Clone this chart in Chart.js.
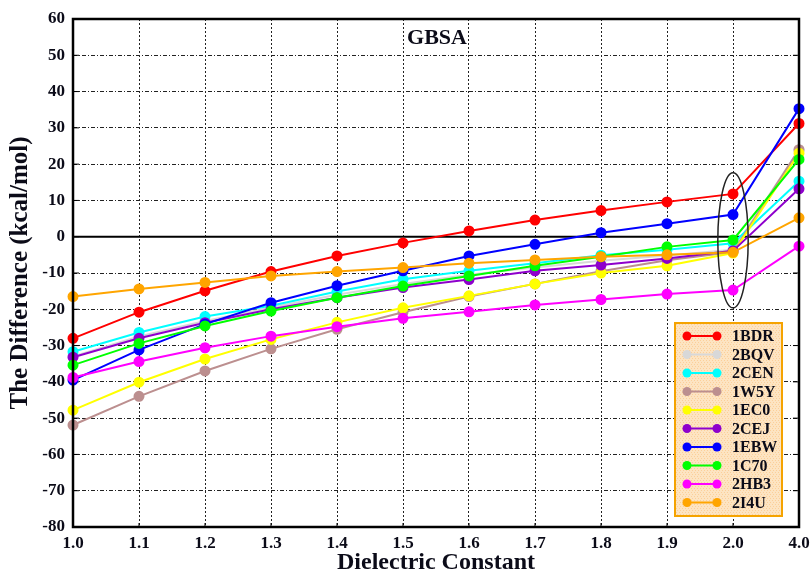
<!DOCTYPE html>
<html>
<head>
<meta charset="utf-8">
<script src="https://cdn.jsdelivr.net/npm/chart.js@4.4.1/dist/chart.umd.min.js"></script>
<style>
  html, body { margin: 0; padding: 0; background: #fff; }
  #wrap { width: 812px; height: 575px; }
</style>
</head>
<body>
<div id="wrap"><canvas id="chart1Canv" width="812" height="575"></canvas></div>
<script>
// dielectric constants on the x axis
const labels = ['1.0', '1.1', '1.2', '1.3', '1.4', '1.5', '1.6', '1.7', '1.8', '1.9', '2.0', '4.0'];

// energy differences (kcal/mol)
const s1BDR = [-28, -20.8, -14.9, -9.6, -5.3, -1.7, 1.6, 4.6, 7.2, 9.6, 11.8, 31.2];
const s2BQV = [-33, -27.5, -23.2, -19.5, -16, -13, -10.5, -8.5, -6.6, -5.2, -3.6, 24];
const s2CEN = [-31.7, -26.4, -22, -19, -15.1, -11.7, -9.4, -7.3, -5.1, -3.6, -1.8, 15.3];
const s1W5Y = [-51.9, -44, -37, -30.9, -25.5, -20.8, -16.5, -13, -9.5, -6.5, -4.2, 24];
const s1EC0 = [-47.8, -40.1, -33.7, -28.3, -23.6, -19.6, -16.3, -13, -10, -8, -4.5, 23];
const s2CEJ = [-33.2, -28, -23.7, -20, -16.8, -14, -11.8, -9.4, -7.8, -6, -3.9, 13.2];
const s1EBW = [-39.5, -31.2, -24.1, -18.2, -13.5, -9.4, -5.3, -2.1, 1.1, 3.6, 6.1, 35.3];
const s1C70 = [-35.4, -29.4, -24.6, -20.5, -16.8, -13.6, -10.8, -8, -5.5, -2.8, -0.9, 21.3];
const s2HB3 = [-38.8, -34.4, -30.6, -27.4, -24.8, -22.5, -20.7, -18.8, -17.3, -15.8, -14.7, -2.6];
const s2I4U = [-16.5, -14.4, -12.6, -10.8, -9.6, -8.5, -7.3, -6.4, -5.5, -5, -4.3, 5.2];

const names = ['1BDR', '2BQV', '2CEN', '1W5Y', '1EC0', '2CEJ', '1EBW', '1C70', '2HB3', '2I4U'];
const seriesList = [s1BDR, s2BQV, s2CEN, s1W5Y, s1EC0, s2CEJ, s1EBW, s1C70, s2HB3, s2I4U];
const colors = ['#ff0000', '#d8d8d8', '#00ffff', '#bc8f8f', '#ffff00', '#8e00cc', '#0000ff', '#00ff00', '#ff00ff', '#ffa500'];

// the ellipse that marks the eps = 2.0 column
const ellipseAt = '2.0';
const ellipseMid = -1;
const ellipseHalf = 18.6;

const serif = "'Liberation Serif', 'Times New Roman', serif";
const ink = '#0b0b18';

// frame, zero line, title, ellipse and legend
const decorations = {
    id: 'decorations',
    beforeDatasetsDraw(chart) {
        const {ctx, chartArea: a, scales} = chart;
        const y0 = scales.y.getPixelForValue(0);
        ctx.save();
        ctx.strokeStyle = '#000';
        ctx.lineWidth = 2;
        ctx.beginPath();
        ctx.moveTo(a.left, y0);
        ctx.lineTo(a.right, y0);
        ctx.stroke();

        // small inner ticks on the edges
        ctx.lineWidth = 1;
        scales.y.ticks.forEach((t, i) => {
            const py = scales.y.getPixelForTick(i);
            ctx.beginPath();
            ctx.moveTo(a.right - 6, py);
            ctx.lineTo(a.right, py);
            ctx.moveTo(a.left, py);
            ctx.lineTo(a.left + 6, py);
            ctx.stroke();
        });
        labels.forEach((l, i) => {
            const px = scales.x.getPixelForTick(i);
            ctx.beginPath();
            ctx.moveTo(px, a.bottom - 4);
            ctx.lineTo(px, a.bottom);
            ctx.stroke();
        });
        ctx.restore();
    },
    afterDatasetsDraw(chart) {
        const {ctx, chartArea: a, scales} = chart;
        ctx.save();

        // plot frame
        ctx.strokeStyle = '#000';
        ctx.lineWidth = 2.5;
        ctx.strokeRect(a.left, a.top, a.right - a.left, a.bottom - a.top);

        // title inside the plot
        ctx.fillStyle = ink;
        ctx.font = 'bold 22px ' + serif;
        ctx.textAlign = 'center';
        ctx.textBaseline = 'middle';
        ctx.fillText('GBSA', 437, a.top + 19);

        // ellipse
        const cx = scales.x.getPixelForValue(labels.indexOf(ellipseAt));
        const cy = scales.y.getPixelForValue(ellipseMid);
        const ry = scales.y.getPixelForValue(ellipseMid - ellipseHalf) - cy;
        const rx = (scales.x.getPixelForTick(1) - scales.x.getPixelForTick(0)) * 0.23;
        ctx.strokeStyle = '#222';
        ctx.lineWidth = 1.5;
        ctx.beginPath();
        ctx.ellipse(cx, cy, rx, ry, 0, 0, Math.PI * 2);
        ctx.stroke();

        // legend box
        const bw = 107, bh = 193;
        const bx = a.right - 17 - bw, by = a.bottom - 11 - bh;
        ctx.fillStyle = '#fde4c2';
        ctx.fillRect(bx, by, bw, bh);
        ctx.fillStyle = 'rgba(245,170,80,0.35)';
        for (let yy = by + 1; yy < by + bh; yy += 2) {
            for (let xx = bx + ((yy - by) % 4 === 1 ? 1 : 2); xx < bx + bw; xx += 3) {
                ctx.fillRect(xx, yy, 1, 1);
            }
        }
        ctx.strokeStyle = '#f5a300';
        ctx.lineWidth = 2;
        ctx.strokeRect(bx, by, bw, bh);

        ctx.font = 'bold 16px ' + serif;
        ctx.textAlign = 'left';
        names.forEach((n, i) => {
            const ly = by + 13 + i * 18.5;
            ctx.strokeStyle = colors[i];
            ctx.fillStyle = colors[i];
            ctx.lineWidth = 2;
            ctx.beginPath();
            ctx.moveTo(bx + 12, ly);
            ctx.lineTo(bx + 42, ly);
            ctx.stroke();
            [bx + 12, bx + 42].forEach(px => {
                ctx.beginPath();
                ctx.arc(px, ly, 4.5, 0, Math.PI * 2);
                ctx.fill();
            });
            ctx.fillStyle = ink;
            ctx.fillText(n, bx + 57, ly + 1);
        });
        ctx.restore();
    }
};

const chart1Canv = document.getElementById('chart1Canv');
const chart1Chart = new Chart(chart1Canv, {
    type: 'line',
    data: {
        labels: labels,
        datasets: seriesList.map((s, i) => ({
            label: names[i],
            data: s,
            borderColor: colors[i],
            backgroundColor: colors[i],
            borderWidth: 2,
            pointRadius: 4.5,
            pointHoverRadius: 4.5,
            tension: 0,
            order: seriesList.length - i   // later series sit on top
        }))
    },
    options: {
        responsive: false,
        animation: false,
        layout: { padding: { top: 19, right: 13, left: 0, bottom: 0 } },
        plugins: {
            legend: { display: false },
            tooltip: { enabled: false }
        },
        scales: {
            x: {
                offset: false,
                grid: { color: '#222', lineWidth: 1, drawTicks: false },
                border: { display: false, dash: [2, 2] },
                ticks: {
                    color: ink,
                    padding: 6,
                    font: { family: serif, size: 17, weight: 'bold' },
                    maxRotation: 0
                },
                title: {
                    display: true,
                    text: 'Dielectric Constant',
                    color: ink,
                    padding: { top: 0, bottom: 0 },
                    font: { family: serif, size: 24, weight: 'bold', lineHeight: 1 }
                },
                afterFit: s => {
                    s.height = 48;
                    s.paddingLeft = 0;
                    s.paddingRight = 0;
                }
            },
            y: {
                min: -80,
                max: 60,
                grid: { color: '#222', lineWidth: 1, drawTicks: false },
                border: { display: false, dash: [4, 2, 1, 2] },
                ticks: {
                    stepSize: 10,
                    color: ink,
                    padding: 8,
                    font: { family: serif, size: 17, weight: 'bold' }
                },
                title: {
                    display: true,
                    text: 'The Difference (kcal/mol)',
                    color: ink,
                    padding: { top: 8, bottom: 0 },
                    font: { family: serif, size: 25, weight: 'bold', lineHeight: 1 }
                },
                afterFit: s => { s.width = 73; }
            }
        }
    },
    plugins: [decorations]
});
</script>
</body>
</html>
